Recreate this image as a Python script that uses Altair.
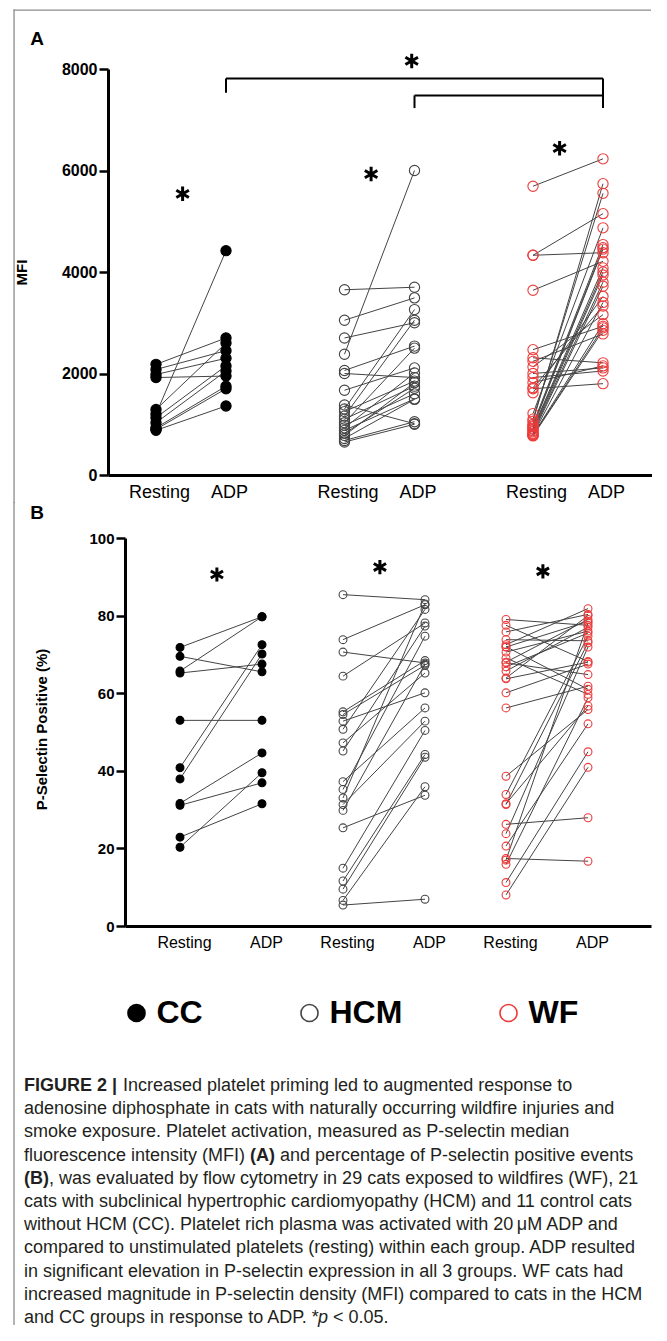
import altair as alt
import pandas as pd

groups = ["CC", "HCM", "WF"]
conditions = ["Resting", "ADP"]

# ---------------- Panel A : MFI ----------------
cc_mfi_resting = [2180, 2080, 1980, 1920, 1290, 1200, 1130, 1030, 930, 900, 880]
cc_mfi_adp = [2700, 2450, 2300, 1950, 2600, 4420, 2150, 2050, 1750, 1700, 1360]
hcm_mfi_resting = [3650, 3050, 2700, 2380, 2060, 2000, 1670, 1380, 1300, 1250, 1160,
                   1100, 1030, 980, 930, 880, 820, 780, 720, 680, 650]
hcm_mfi_adp = [3700, 3490, 3000, 6000, 2540, 1920, 2110, 1010, 3260, 1850, 3050,
               1750, 2500, 1600, 2010, 1500, 1710, 1820, 1490, 1050, 1000]
wf_mfi_resting = [5690, 4330, 4330, 3640, 2470, 2310, 2240, 2130, 2000, 1920, 1820,
                  1720, 1700, 1620, 1210, 1100, 1060, 1000, 970, 950, 920, 900, 870,
                  850, 820, 800, 790, 780, 770]
wf_mfi_adp = [6230, 5150, 4380, 4210, 2930, 2210, 2780, 3160, 2110, 2050, 2150,
              3330, 1800, 3520, 4870, 5550, 5740, 4540, 4480, 4450, 4080, 4000, 3940,
              3800, 3720, 3400, 2980, 2900, 2850]

# ---------------- Panel B : P-selectin positive (%) ----------------
cc_pct_resting = [71.8, 69.5, 65.7, 65.2, 53.0, 40.8, 37.9, 31.6, 31.1, 22.9, 20.3]
cc_pct_adp = [79.7, 65.5, 79.7, 67.5, 53.0, 72.5, 70.1, 44.6, 36.9, 31.5, 39.5]
hcm_pct_resting = [85.4, 73.8, 70.6, 64.4, 55.2, 54.5, 52.8, 50.7, 47.2, 45.1, 37.2,
                   35.2, 33.0, 31.3, 29.8, 25.3, 14.9, 11.6, 9.5, 6.6, 5.4]
hcm_pct_adp = [84.1, 82.8, 67.8, 78.1, 68.4, 67.2, 60.1, 81.6, 65.2, 77.3, 56.2,
               74.7, 83.0, 52.8, 67.5, 33.7, 50.4, 44.2, 43.5, 35.9, 6.9]
wf_pct_resting = [79.0, 77.5, 75.8, 73.8, 72.5, 72.0, 71.9, 70.6, 69.1, 68.0, 67.8,
                  66.8, 65.7, 63.9, 63.7, 60.1, 56.2, 38.6, 33.9, 31.5, 31.3, 26.2,
                  23.8, 20.6, 17.4, 17.0, 15.9, 11.2, 8.0]
wf_pct_adp = [77.5, 68.2, 80.3, 73.5, 81.8, 61.0, 78.5, 76.0, 59.7, 79.0, 64.8,
              75.5, 77.0, 80.0, 68.0, 67.5, 61.8, 55.8, 74.7, 56.7, 73.0, 27.9,
              71.9, 52.1, 16.7, 78.1, 58.8, 44.9, 40.9]

mfi_ticks = [0, 2000, 4000, 6000, 8000]
pct_ticks = [0, 20, 40, 60, 80, 100]

caption_lines = [
    [("FIGURE 2 |", "bold"), ("Increased platelet priming led to augmented response to", "normal")],
    [("adenosine diphosphate in cats with naturally occurring wildfire injuries and", "normal")],
    [("smoke exposure. Platelet activation, measured as P-selectin median", "normal")],
    [("fluorescence intensity (MFI)", "normal"), ("(A)", "bold"),
     ("and percentage of P-selectin positive events", "normal")],
    [("(B)", "bold"), (", was evaluated by flow cytometry in 29 cats exposed to wildfires (WF), 21", "normal")],
    [("cats with subclinical hypertrophic cardiomyopathy (HCM) and 11 control cats", "normal")],
    [("without HCM (CC). Platelet rich plasma was activated with 20\u2009\u03bcM ADP and", "normal")],
    [("compared to unstimulated platelets (resting) within each group. ADP resulted", "normal")],
    [("in significant elevation in P-selectin expression in all 3 groups. WF cats had", "normal")],
    [("increased magnitude in P-selectin density (MFI) compared to cats in the HCM", "normal")],
    [("and CC groups in response to ADP. *", "normal"), ("p", "italic"), ("< 0.05.", "normal")],
]
# x start (absolute page px) of each caption segment
caption_x = [[23, 122], [23], [23], [23, 249, 279], [23, 48], [23], [23], [23], [23], [23],
             [23, 317, 332]]

FILL_RANGE = ["black", "transparent", "transparent"]
STROKE_RANGE = ["black", "#454545", "#ec3b3b"]
LINE_COLOR = "#444444"
BORDER = "#8c8c8c"
FONT = "Liberation Sans"
STAR = "M0,-1L0,1M-0.866,-0.5L0.866,0.5M-0.866,0.5L0.866,-0.5"

OX = 107          # absolute x of the shared plot origin
AY = 68           # absolute y of panel A plot top
BY = 537          # absolute y of panel B plot top
BSHIFT = 17       # panel B axis sits 17px right of the shared origin


def paired_table(resting, adp, gap):
    rows = []
    for gi, g in enumerate(groups):
        for i, (r, a) in enumerate(zip(resting[gi], adp[gi])):
            for ci, (c, v) in enumerate(zip(conditions, (r, a))):
                rows.append({"cat": f"{g}-{i}", "group": g, "condition": c,
                             "pos": gi * gap + ci, "value": v})
    return pd.DataFrame(rows)


def one(**kw):
    return pd.DataFrame([kw])


def x_axis(gap, size, loff):
    vals = [round(gi * gap + ci, 4) for gi in range(3) for ci in range(2)]
    rest_keys = [round(gi * gap * 100) for gi in range(3)]
    return alt.Axis(values=vals, ticks=False, grid=False, title=None,
                    labelExpr=f"indexof({rest_keys}, round(datum.value*100)) >= 0 ? 'Resting' : 'ADP'",
                    labelFontSize=size, labelFont=FONT, labelColor="black", labelOffset=loff,
                    labelPadding=8, labelFlush=False, labelOverlap=False,
                    domainColor="black", domainWidth=3)


def y_axis(ticks, title, tx, ty, lsize, offset=0):
    return alt.Axis(values=ticks, grid=False, title=title, titleX=tx, titleY=ty, format="d",
                    titleAngle=-90, titleAlign="center", titleBaseline="middle",
                    titleFont=FONT, titleFontSize=15, titleFontWeight="bold", titleColor="black",
                    labelFont=FONT, labelFontSize=lsize, labelFontWeight="bold", labelColor="black",
                    labelPadding=2, tickSize=9, tickWidth=2.5, tickColor="black",
                    domainColor="black", domainWidth=3, offset=offset)


def frame_rule(key, **enc):
    return alt.Chart(one(frame=key)).mark_rule(color=BORDER, strokeWidth=1.3).encode(
        **{k: alt.value(v) for k, v in enc.items()})


def frame_rect(key, **enc):
    return alt.Chart(one(frame=key)).mark_rect(color=BORDER, opacity=1).encode(
        **{k: alt.value(v) for k, v in enc.items()})


def label_text(t, x, y, size=19, weight="bold"):
    return alt.Chart(one(t=t)).mark_text(font=FONT, fontSize=size, fontWeight=weight,
                                         align="center", baseline="middle", color="black").encode(
        x=alt.value(x), y=alt.value(y), text="t:N")


# ================= Panel A =================
GAP_A = 188.5 / 70
WA, HA = 544, 406
dfA = paired_table([cc_mfi_resting, hcm_mfi_resting, wf_mfi_resting],
                   [cc_mfi_adp, hcm_mfi_adp, wf_mfi_adp], GAP_A)
xA = alt.X("pos:Q", scale=alt.Scale(domain=[-48 / 70, 2 * GAP_A + 1 + 49 / 70], nice=False, zero=False),
           axis=x_axis(GAP_A, 18, 3))
yA = alt.Y("value:Q", scale=alt.Scale(domain=[0, 8000], nice=False),
           axis=y_axis(mfi_ticks, "MFI", 20 - OX, HA / 2, 16))

baseA = alt.Chart(dfA)
linesA = baseA.mark_line(color=LINE_COLOR, strokeWidth=1).encode(x=xA, y=yA, detail="cat:N")
pointsA = baseA.mark_point(shape="circle", size=105, strokeWidth=1.1, opacity=1).encode(
    x=xA, y=yA,
    fill=alt.Fill("group:N", scale=alt.Scale(domain=groups, range=FILL_RANGE), legend=None),
    stroke=alt.Stroke("group:N", scale=alt.Scale(domain=groups, range=STROKE_RANGE), legend=None),
)

starsA = pd.DataFrame({"pos": [gi * GAP_A + 0.38 for gi in range(3)] + [GAP_A + 0.96],
                       "value": [5540, 5930, 6440, 8160]})
starA = alt.Chart(starsA).mark_point(shape=STAR, size=210, strokeWidth=3, color="black",
                                     filled=False, opacity=1).encode(x="pos:Q", y="value:Q")

bracket = pd.DataFrame({
    "x1": [1, 1, 2 * GAP_A + 1, GAP_A + 1, GAP_A + 1],
    "x2": [2 * GAP_A + 1, 1, 2 * GAP_A + 1, 2 * GAP_A + 1, GAP_A + 1],
    "y1": [7815, 7815, 7815, 7480, 7480],
    "y2": [7815, 7530, 7230, 7480, 7230],
})
bracketA = alt.Chart(bracket).mark_rule(color="black", strokeWidth=2).encode(
    x="x1:Q", x2="x2:Q", y="y1:Q", y2="y2:Q")

letterA = label_text("A", 36 - OX, 38 - AY)
# frame edges over panel A drawn as thin filled rectangles
frameTop = frame_rect("top", x=12.4 - OX, x2=650 - OX, y=8.4 - AY, y2=9.7 - AY)
frameLeftA = frame_rect("leftA", x=12.4 - OX, x2=13.7 - OX, y=8.4 - AY, y2=502 - AY)

panelA = alt.layer(letterA, bracketA, linesA, pointsA, starA, frameTop, frameLeftA).properties(
    width=WA, height=HA)

# ================= Panel B =================
GAP_B = 163 / 82
WB, HB = 543, 388
dfB = paired_table([cc_pct_resting, hcm_pct_resting, wf_pct_resting],
                   [cc_pct_adp, hcm_pct_adp, wf_pct_adp], GAP_B)
xB = alt.X("pos:Q", scale=alt.Scale(domain=[-55 / 82, 2 * GAP_B + 1 + 63 / 82], nice=False, zero=False,
                                    range=[BSHIFT, WB]),
           axis=x_axis(GAP_B, 16, 4))
yB = alt.Y("value:Q", scale=alt.Scale(domain=[0, 100], nice=False),
           axis=y_axis(pct_ticks, "P-Selectin Positive (%)", -84, 191, 15, offset=-BSHIFT))

legend = alt.Legend(title=None, orient="none", legendX=119.5 - OX, legendY=1012 - 16 - BY,
                    direction="horizontal",
                    symbolType="circle", symbolSize=290, symbolStrokeWidth=1.6, symbolOpacity=1,
                    labelFont=FONT, labelFontSize=32, labelFontWeight="bold", labelColor="black",
                    labelOffset=4, columnPadding=90, padding=0)

baseB = alt.Chart(dfB)
linesB = baseB.mark_line(color=LINE_COLOR, strokeWidth=1).encode(x=xB, y=yB, detail="cat:N")
pointsB = baseB.mark_point(shape="circle", size=62, strokeWidth=1.1, opacity=1).encode(
    x=xB, y=yB,
    fill=alt.Fill("group:N", scale=alt.Scale(domain=groups, range=FILL_RANGE), legend=legend),
    stroke=alt.Stroke("group:N", scale=alt.Scale(domain=groups, range=STROKE_RANGE), legend=legend),
)
starsB = pd.DataFrame({"pos": [gi * GAP_B + 0.45 for gi in range(3)],
                       "value": [90.6, 92.5, 91.4]})
starB = alt.Chart(starsB).mark_point(shape=STAR, size=200, strokeWidth=3, color="black",
                                     filled=False, opacity=1).encode(x=alt.X("pos:Q"), y="value:Q")

letterB = label_text("B", 36 - OX, 512 - BY)
frameLeftB = frame_rule("leftB", x=13 - OX, y=501 - BY, y2=1324 - BY)

caption_layers = []
for li, (segs, xs) in enumerate(zip(caption_lines, caption_x)):
    yabs = 1085 + 23.2 * li
    for (txt, style), xabs in zip(segs, xs):
        caption_layers.append(
            alt.Chart(one(t=txt)).mark_text(
                font=FONT, fontSize=18, align="left", baseline="middle", color="#231f20",
                fontWeight="bold" if style == "bold" else "normal",
                fontStyle="italic" if style == "italic" else "normal",
            ).encode(x=alt.value(xabs - OX), y=alt.value(yabs - BY), text="t:N")
        )

panelB = alt.layer(letterB, linesB, pointsB, starB, *caption_layers, frameLeftB).properties(
    width=WB, height=HB)

chart = alt.vconcat(panelA, panelB, spacing=BY - AY - HA, bounds="flush").resolve_scale(
    fill="independent", stroke="independent", x="independent", y="independent").resolve_legend(
    fill="independent", stroke="independent").properties(
    padding={"left": 5, "top": 1, "right": 0, "bottom": 0}).configure_view(stroke=None)

chart.save("out.html", embed_options={"renderer": "svg", "actions": False})
